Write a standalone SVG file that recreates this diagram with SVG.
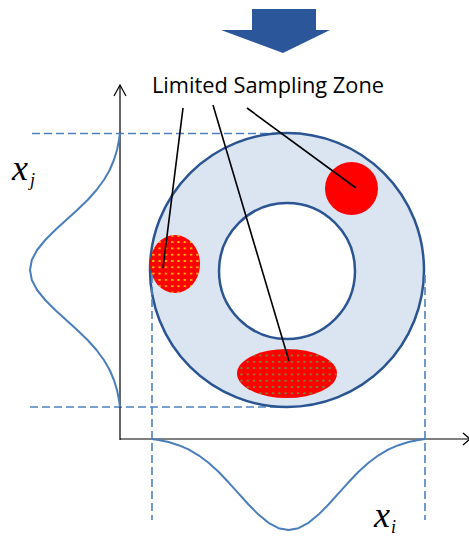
<svg xmlns="http://www.w3.org/2000/svg" width="469" height="537" viewBox="0 0 469 537">
<style>
.dash{stroke:#4f81bd;stroke-width:1.6;stroke-dasharray:8,4;fill:none}
.axis{stroke:#000;stroke-width:1.2;fill:none}
.gauss{stroke:#4a7ebb;stroke-width:2;fill:none;stroke-linejoin:round}
.ring{stroke:#2a5592;stroke-width:2.5}
.lead{stroke:#000;stroke-width:1.6;fill:none}
.var{font-family:"Liberation Serif",serif;font-style:italic;fill:#000}
</style>
<defs>
<pattern id="ydots" width="6.3" height="6.3" patternUnits="userSpaceOnUse">
<rect x="1" y="2" width="2.2" height="1.4" fill="#ffff00"/>
</pattern>
<pattern id="gdots" width="6.3" height="6.3" patternUnits="userSpaceOnUse">
<rect x="1" y="2" width="2.2" height="1.4" fill="#4caf50"/>
</pattern>
</defs>
<g id="arrow">
<polygon points="252,9 316,9 316,30 330,30 283,53 221,30 252,30" fill="#2b579a"/>
</g>
<g id="guides">
<line class="dash" x1="32" y1="133.5" x2="287" y2="133.5"/>
<line class="dash" x1="30" y1="407" x2="287" y2="407"/>
</g>
<g id="axes">
<line class="axis" x1="120" y1="86" x2="120" y2="440"/>
<polyline class="axis" points="114,96 120,85 126,96"/>
<line class="axis" x1="120" y1="439" x2="469" y2="439"/>
<polyline class="axis" points="463,433 470,439 463,445"/>
</g>
<g id="ring">
<circle class="ring" cx="287" cy="270" r="137" fill="#dbe5f1"/>
<circle class="ring" cx="287" cy="271" r="68" fill="#fff"/>
</g>
<g id="zone-top">
<circle cx="351.5" cy="188.5" r="26.5" fill="#ff0000"/>
</g>
<g id="zone-left">
<ellipse cx="175" cy="264" rx="25" ry="29" fill="#ff0000"/>
<ellipse cx="175" cy="264" rx="25" ry="29" fill="url(#ydots)"/>
</g>
<g id="zone-bottom">
<ellipse cx="287" cy="373.5" rx="50" ry="24.5" fill="#ff0000"/>
<ellipse cx="287" cy="373.5" rx="50" ry="24.5" fill="url(#gdots)"/>
</g>
<g id="vguides">
<line class="dash" x1="152" y1="275" x2="152" y2="520"/>
<line class="dash" x1="425" y1="275" x2="425" y2="520"/>
</g>
<g id="gauss-j">
<path class="gauss" d="M120,133 L119,140 L117,150 L113.9,160 L109.7,170 L103.9,180 L96.5,190 L87.6,200 L77.2,210 L66.2,220 L55.2,230 L45.2,240 L37.1,250 L31.8,260 L30,270 L31.8,280 L37.1,290 L45.2,300 L55.2,310 L66.2,320 L77.2,330 L87.6,340 L96.5,350 L103.9,360 L109.7,370 L113.9,380 L117,390 L119,400 L120,407"/>
</g>
<g id="gauss-i">
<path class="gauss" d="M152,439 L158.5,440 L168.5,442 L178.5,445.2 L188.5,449.4 L198.5,455.3 L208.5,462.8 L218.5,471.8 L228.5,482.3 L238.5,493.4 L248.5,504.5 L258.5,514.6 L268.5,522.8 L278.5,528.2 L288.5,530 L298.5,528.2 L308.5,522.8 L318.5,514.6 L328.5,504.5 L338.5,493.4 L348.5,482.3 L358.5,471.8 L368.5,462.8 L378.5,455.3 L388.5,449.4 L398.5,445.2 L408.5,442 L418.5,440 L425,439"/>
</g>
<g id="connectors">
<line class="lead" x1="183" y1="108" x2="163" y2="268"/>
<line class="lead" x1="213" y1="105" x2="289" y2="361"/>
<line class="lead" x1="247" y1="108" x2="356" y2="188"/>
</g>
<g id="label">
<text x="152" y="93" font-family="Open Sans, sans-serif" font-size="21" textLength="232" lengthAdjust="spacingAndGlyphs" fill="#000">Limited Sampling Zone</text>
</g>
<g id="xj">
<text class="var" x="12" y="180" font-size="36">x</text>
<text class="var" x="30" y="186" font-size="18">j</text>
</g>
<g id="xi">
<text class="var" x="374" y="527" font-size="36">x</text>
<text class="var" x="391" y="533" font-size="18">i</text>
</g>
</svg>
